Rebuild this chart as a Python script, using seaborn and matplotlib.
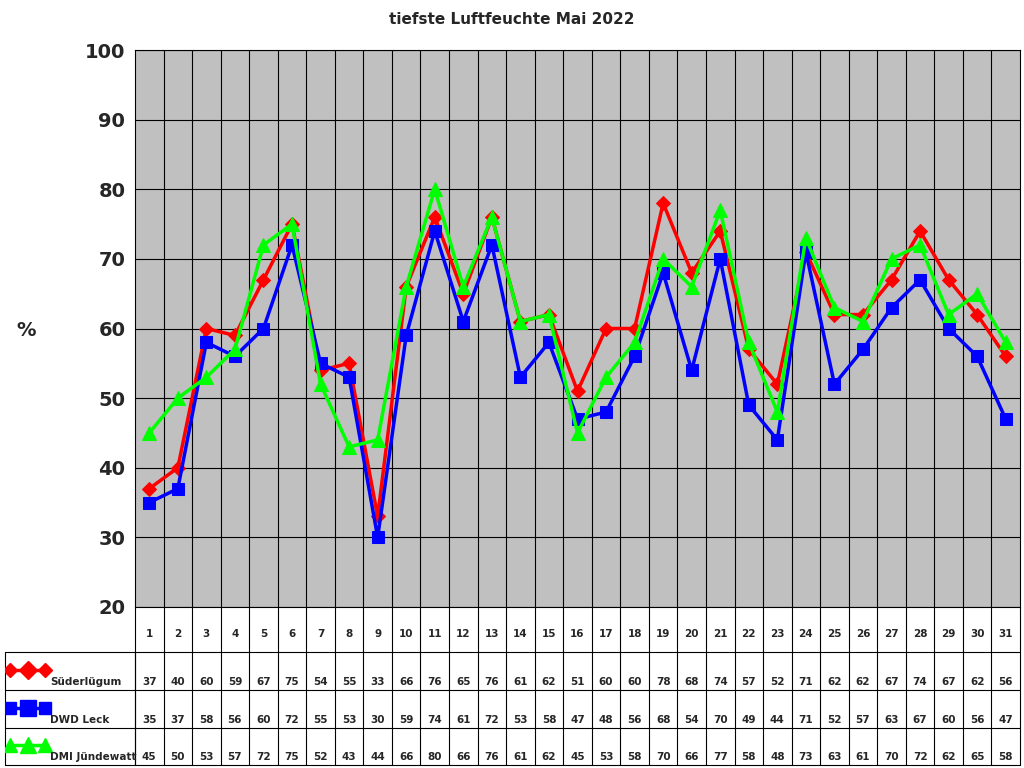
import matplotlib
matplotlib.use("Agg")
import matplotlib.pyplot as plt
import seaborn as sns
import pandas as pd

days = list(range(1, 32))
suederluegum = [37, 40, 60, 59, 67, 75, 54, 55, 33, 66, 76, 65, 76, 61, 62, 51,
                60, 60, 78, 68, 74, 57, 52, 71, 62, 62, 67, 74, 67, 62, 56]
dwd_leck = [35, 37, 58, 56, 60, 72, 55, 53, 30, 59, 74, 61, 72, 53, 58, 47,
            48, 56, 68, 54, 70, 49, 44, 71, 52, 57, 63, 67, 60, 56, 47]
dmi = [45, 50, 53, 57, 72, 75, 52, 43, 44, 66, 80, 66, 76, 61, 62, 45,
       53, 58, 70, 66, 77, 58, 48, 73, 63, 61, 70, 72, 62, 65, 58]

names = ["Süderlügum", "DWD Leck", "DMI Jündewatt"]
series = [suederluegum, dwd_leck, dmi]
colors = {"Süderlügum": "#FF0000", "DWD Leck": "#0000FF", "DMI Jündewatt": "#00FF00"}
markers = {"Süderlügum": "D", "DWD Leck": "s", "DMI Jündewatt": "^"}
msizes = {"Süderlügum": 7, "DWD Leck": 9, "DMI Jündewatt": 10}

rows = []
for n, vals in zip(names, series):
    for d, v in zip(days, vals):
        rows.append({"Tag": d, "Wert": v, "Station": n})
df = pd.DataFrame(rows)

sns.set_style("white")
plt.rcParams['font.family'] = ['DejaVu Sans']
fig = plt.figure(figsize=(10.24, 7.68), dpi=100)
W, H = 1024, 768
ax = fig.add_axes([135 / W, 1 - 607 / H, 885 / W, 557 / H])
ax.set_facecolor("#C0C0C0")

for n in names:
    sub = df[df.Station == n]
    sns.lineplot(data=sub, x="Tag", y="Wert", ax=ax, color=colors[n], lw=2.5,
                 marker=markers[n], markersize=msizes[n], markeredgecolor=colors[n])

ax.set_xlim(0.5, 31.5)
ax.set_ylim(20, 100)
ax.set_yticks(range(20, 101, 10))
ax.set_yticklabels([str(t) for t in range(20, 101, 10)], fontsize=14, fontweight="bold")
ax.set_xticks([d + 0.5 for d in days[:-1]])
ax.set_xticklabels([])
ax.tick_params(axis="x", length=0)
ax.grid(True, color="black", lw=0.8)
ax.set_axisbelow(True)
ax.set_xlabel("")
ax.set_ylabel("")
for s in ax.spines.values():
    s.set_color("black")
fig.text(16 / W, 1 - 330 / H, "%", fontsize=14, fontweight="bold", va="center")
fig.text(0.5, 1 - 20 / H, "tiefste Luftfeuchte Mai 2022", fontsize=11,
         fontweight="bold", ha="center", va="center")

# data table
tax = fig.add_axes([135 / W, 1 - 765 / H, 885 / W, 158 / H])
tax.set_xlim(0.5, 31.5)
tax.set_ylim(0, 158)
tax.axis("off")
row_bottoms = [113, 75, 37, 0]
for d in days:
    tax.text(d, 131, str(d), ha="center", va="center", fontsize=7.5, fontweight="bold")
    for r, vals in enumerate(series):
        tax.text(d, row_bottoms[r + 1] + 8, str(vals[d - 1]), ha="center",
                 va="center", fontsize=7.5, fontweight="bold")
for k in range(32):
    tax.plot([k + 0.5, k + 0.5], [0, 158], color="black", lw=0.8, clip_on=False)
for yb in [0, 37, 75]:
    tax.plot([0.5, 31.5], [yb, yb], color="black", lw=0.8, clip_on=False)
tax.plot([0.5, 31.5], [113, 113], color="black", lw=0.8, clip_on=False)

lax = fig.add_axes([5 / W, 1 - 765 / H, 130 / W, 113 / H])
lax.set_xlim(0, 130)
lax.set_ylim(0, 113)
lax.axis("off")
lax.plot([0, 130, 130, 0, 0], [0, 0, 113, 113, 0], color="black", lw=0.8, clip_on=False)
for yb in [37, 75]:
    lax.plot([0, 130], [yb, yb], color="black", lw=0.8)
for r, n in enumerate(names):
    yb = row_bottoms[r + 1]
    lax.plot([5, 40], [yb + 20, yb + 20], color=colors[n], lw=2.5,
             marker=markers[n], markersize=msizes[n], markevery=[1] if False else None)
    lax.plot([22.5], [yb + 20], color=colors[n], marker=markers[n], markersize=msizes[n] + 2)
    lax.text(45, yb + 8, n, fontsize=7.5, fontweight="bold", va="center")

fig.savefig("out.png", dpi=100)
